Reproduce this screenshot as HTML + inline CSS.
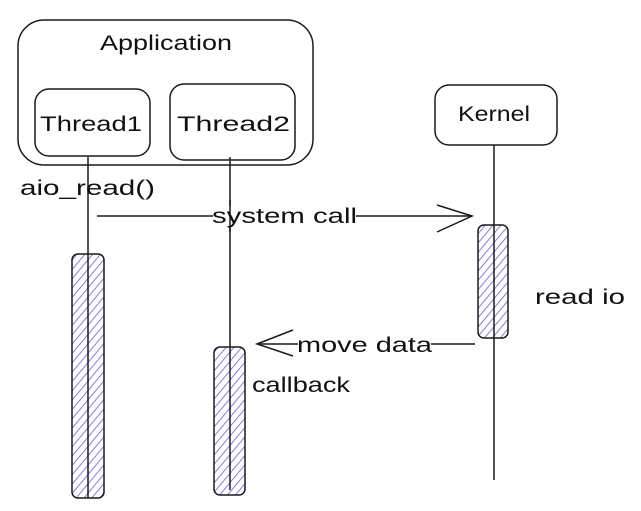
<!DOCTYPE html>
<html><head><meta charset="utf-8"><style>
html,body{margin:0;padding:0;background:#fff;width:641px;height:511px;overflow:hidden}
svg text{font-family:"Liberation Sans",sans-serif;font-size:21px;fill:#111}
</style></head><body>
<svg width="641" height="511" viewBox="0 0 641 511" xmlns="http://www.w3.org/2000/svg">
<defs>
<pattern id="h" width="6" height="6" patternUnits="userSpaceOnUse" patternTransform="rotate(40)">
<rect width="6" height="6" fill="#fff"/>
<line x1="0" y1="0" x2="0" y2="6" stroke="#6a5ae0" stroke-width="1.6"/>
</pattern>
</defs>
<g fill="none" stroke="#1a1a1a" stroke-width="1.5">
<rect x="18" y="20" width="295" height="145" rx="26"/>
<rect x="35" y="89" width="115" height="67" rx="14" fill="#fff"/>
<rect x="170" y="84" width="125" height="76" rx="14" fill="#fff"/>
<rect x="435" y="85" width="122" height="60" rx="14"/>
<rect x="72" y="254" width="32" height="244" rx="6" fill="url(#h)"/>
<rect x="214" y="347" width="31" height="148" rx="6" fill="url(#h)"/>
<rect x="478" y="225" width="30" height="113" rx="6" fill="url(#h)"/>
<line x1="88" y1="157" x2="88" y2="498"/>
<line x1="230" y1="157" x2="230" y2="490"/>
<line x1="494" y1="145" x2="494" y2="480"/>
<line x1="97" y1="216" x2="472" y2="216"/>
<polyline points="437,205 472,216 437,232"/>
<line x1="475" y1="344" x2="257" y2="344"/>
<polyline points="293,330 257,344 293,356"/>
</g>
<rect x="213" y="206" width="143" height="20" fill="#fff"/>
<rect x="298" y="335" width="133" height="20" fill="#fff"/>
<line x1="230" y1="200" x2="230" y2="232" stroke="#1a1a1a" stroke-width="1.5"/>
<text x="100" y="50" textLength="132" lengthAdjust="spacingAndGlyphs">Application</text>
<text x="40" y="131" textLength="102" lengthAdjust="spacingAndGlyphs">Thread1</text>
<text x="177" y="131" textLength="113" lengthAdjust="spacingAndGlyphs">Thread2</text>
<text x="458" y="121" textLength="72" lengthAdjust="spacingAndGlyphs">Kernel</text>
<text x="20" y="195" textLength="135" lengthAdjust="spacingAndGlyphs">aio_read()</text>
<text x="212" y="223" textLength="145" lengthAdjust="spacingAndGlyphs">system call</text>
<text x="297" y="352" textLength="135" lengthAdjust="spacingAndGlyphs">move data</text>
<text x="535" y="304" textLength="90" lengthAdjust="spacingAndGlyphs">read io</text>
<text x="252" y="392" textLength="98" lengthAdjust="spacingAndGlyphs">callback</text>
</svg>
</body></html>
